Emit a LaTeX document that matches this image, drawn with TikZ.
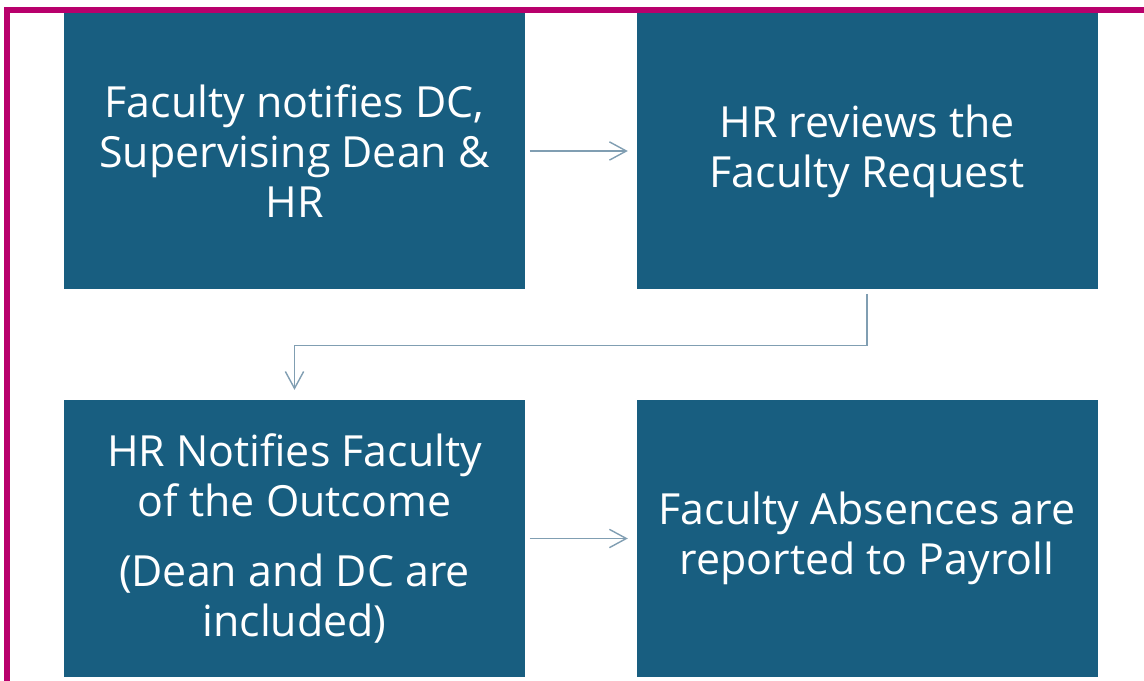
\documentclass[tikz,border=0pt]{standalone}
\usepackage{fontspec}
\setmainfont{Open Sans}
\usetikzlibrary{arrows.meta}
\definecolor{boxblue}{RGB}{24,94,128}
\definecolor{rimpink}{RGB}{184,0,108}
\definecolor{linkgrey}{RGB}{128,158,178}
\tikzset{
  stepbox/.style={fill=boxblue, draw=none, minimum width=461*0.025cm, minimum height=277*0.025cm,
    text=white, align=center, font=\fontsize{30.5}{35.6}\selectfont, inner sep=0pt},
  link/.style={draw=linkgrey, line width=1pt, -{Straight Barb[length=12pt,width=13pt]}}
}
\begin{document}
\begin{tikzpicture}[x=0.025cm,y=-0.025cm]
  \useasboundingbox (0,0) rectangle (1144,681);
  %%%%% boxes %%%%%
  \node[stepbox] (notify) at (294.5,151) {Faculty notifies DC,\\Supervising Dean \&\\HR};
  \node[stepbox] (review) at (867,151) {HR reviews the\\Faculty Request};
  \node[stepbox] (outcome) at (294.5,538.5) {HR Notifies Faculty\\of the Outcome\\[0.45em](Dean and DC are\\included)};
  \node[stepbox] (payroll) at (867,538.5) {Faculty Absences are\\reported to Payroll};
  %%%%% arrows %%%%%
  \draw[link, shorten <=3pt, shorten >=6pt] (notify) -- (review);
  \draw[link, shorten <=3pt, shorten >=7pt] (review.south) -- ++(0,56) -| (outcome.north);
  \draw[link, shorten <=3pt, shorten >=6pt] (outcome) -- (payroll);
  %%%%% frame %%%%%
  \draw[rimpink, line width=4.3pt] (1144,10) -- (7,10) -- (7,681);
\end{tikzpicture}
\end{document}
